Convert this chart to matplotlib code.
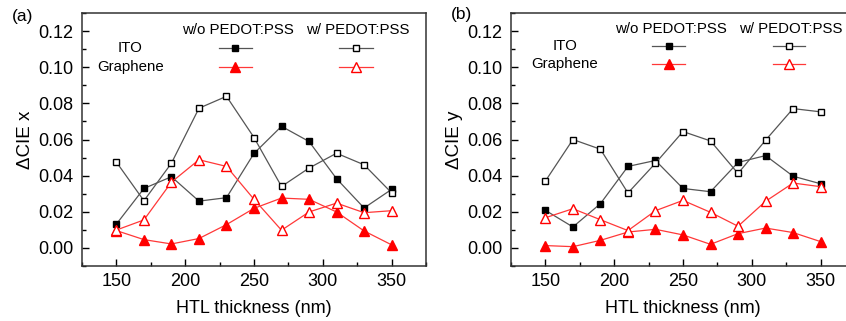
import numpy as np
import matplotlib
matplotlib.use('Agg')
import matplotlib.pyplot as plt
from matplotlib.ticker import MultipleLocator

plt.rcParams['font.family'] = ['Liberation Sans', 'DejaVu Sans']

thickness = [150, 170, 190, 210, 230, 250, 270, 290, 310, 330, 350]

# (a) delta CIE x
x_ito_wo = [0.0132, 0.0329, 0.0394, 0.0259, 0.0278, 0.0523, 0.0673, 0.0589, 0.0383, 0.0221, 0.0324]
x_ito_w = [0.0475, 0.0261, 0.0469, 0.0773, 0.0839, 0.0611, 0.0340, 0.0442, 0.0524, 0.0460, 0.0305]
x_gr_wo = [0.0096, 0.0046, 0.0022, 0.0052, 0.0129, 0.0219, 0.0276, 0.0269, 0.0199, 0.0094, 0.0017]
x_gr_w = [0.0099, 0.0155, 0.0364, 0.0488, 0.0451, 0.0269, 0.0098, 0.0199, 0.0248, 0.0195, 0.0206]

# (b) delta CIE y
y_ito_wo = [0.0208, 0.0116, 0.0245, 0.0451, 0.0484, 0.0329, 0.0311, 0.0473, 0.0511, 0.0397, 0.0355]
y_ito_w = [0.0370, 0.0600, 0.0546, 0.0304, 0.0469, 0.0644, 0.0592, 0.0412, 0.0596, 0.0771, 0.0753]
y_gr_wo = [0.0013, 0.0007, 0.0042, 0.0088, 0.0103, 0.0072, 0.0020, 0.0079, 0.0110, 0.0085, 0.0035]
y_gr_w = [0.0167, 0.0217, 0.0156, 0.0096, 0.0206, 0.0263, 0.0197, 0.0120, 0.0258, 0.0359, 0.0339]

GRAY = '#555555'
RED = '#ff3838'

styles = {
    'ito_wo': dict(color=GRAY, marker='s', ms=5, mfc='black', mec='black', mew=1.0),
    'ito_w': dict(color=GRAY, marker='s', ms=5, mfc='white', mec='black', mew=1.0),
    'gr_wo': dict(color=RED, marker='^', ms=7, mfc='red', mec='red', mew=1.0),
    'gr_w': dict(color=RED, marker='^', ms=7, mfc='white', mec='red', mew=1.0),
}

LEG_FS = 10.8


def draw_panel(ax, series, ylabel, lay):
    for key, vals in series:
        ax.plot(thickness, vals, lw=0.9, **styles[key])
    ax.set_xlim(125, 375)
    ax.set_ylim(-0.01, 0.13)
    ax.xaxis.set_major_locator(MultipleLocator(50))
    ax.xaxis.set_minor_locator(MultipleLocator(25))
    ax.yaxis.set_major_locator(MultipleLocator(0.02))
    ax.yaxis.set_minor_locator(MultipleLocator(0.01))
    ax.yaxis.set_major_formatter(plt.FormatStrFormatter('%.2f'))
    ax.tick_params(which='both', direction='in', top=False, right=False)
    ax.tick_params(which='major', length=5, width=1, labelsize=13, pad=5)
    ax.tick_params(which='minor', length=3, width=1)
    ax.tick_params(axis='y', pad=6)
    for s in ax.spines.values():
        s.set_linewidth(1.1)
        s.set_color('#333333')
    ax.set_xlabel('HTL thickness (nm)', fontsize=13, labelpad=7)
    ax.set_ylabel(ylabel, fontsize=13.5, labelpad=3)

    # hand-built legend
    tr = ax.transAxes
    ax.text(lay['h1'], lay['hy'], 'w/o PEDOT:PSS', transform=tr, ha='center', va='center', fontsize=LEG_FS)
    ax.text(lay['h2'], lay['hy'], 'w/ PEDOT:PSS', transform=tr, ha='center', va='center', fontsize=LEG_FS)
    ax.text(lay['lx'], lay['r1'], 'ITO', transform=tr, ha='center', va='center', fontsize=LEG_FS)
    ax.text(lay['lx'], lay['r2'], 'Graphene', transform=tr, ha='center', va='center', fontsize=LEG_FS)
    for (x0, x1), keys in ((lay['c1'], ('ito_wo', 'gr_wo')), (lay['c2'], ('ito_w', 'gr_w'))):
        for row, key in zip((lay['r1'], lay['r2']), keys):
            st = dict(styles[key])
            ax.plot([x0, x1], [row, row], transform=tr, lw=0.9, color=st['color'], clip_on=False)
            mst = {k: v for k, v in st.items() if k != 'color'}
            ax.plot([(x0 + x1) / 2], [row], transform=tr, ls='none', clip_on=False, **mst)


fig = plt.figure(figsize=(8.46, 3.21), dpi=100)
ax1 = fig.add_axes([82 / 846, 1 - 266 / 321, 344 / 846, 253 / 321])
ax2 = fig.add_axes([511 / 846, 1 - 266 / 321, 344 / 846, 253 / 321])

draw_panel(ax1, [('ito_wo', x_ito_wo), ('ito_w', x_ito_w), ('gr_wo', x_gr_wo), ('gr_w', x_gr_w)],
           'ΔCIE x',
           dict(h1=0.453, h2=0.802, hy=0.933, lx=0.14, r1=0.86, r2=0.788,
                c1=(0.398, 0.494), c2=(0.747, 0.846)))
draw_panel(ax2, [('ito_wo', y_ito_wo), ('ito_w', y_ito_w), ('gr_wo', y_gr_wo), ('gr_w', y_gr_w)],
           'ΔCIE y',
           dict(h1=0.465, h2=0.814, hy=0.937, lx=0.156, r1=0.87, r2=0.798,
                c1=(0.411, 0.506), c2=(0.761, 0.856)))

fig.text(23 / 846, 1 - 17 / 321, '(a)', ha='center', va='center', fontsize=12.5)
fig.text(461 / 846, 1 - 15 / 321, '(b)', ha='center', va='center', fontsize=12.5)

fig.savefig('out.png', dpi=100)
